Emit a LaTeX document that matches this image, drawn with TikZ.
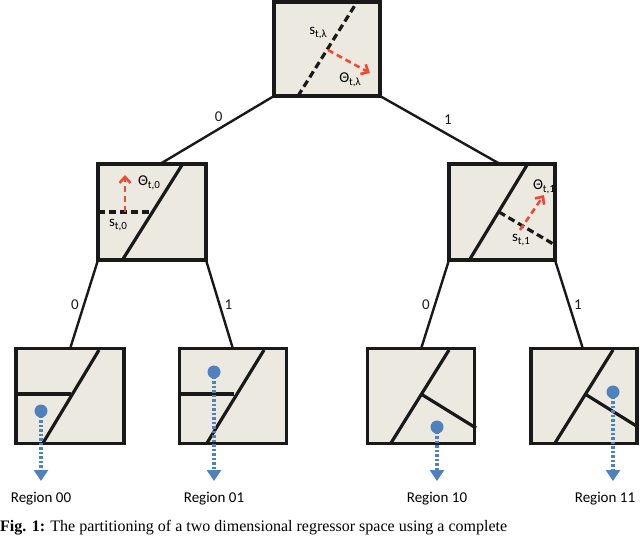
\documentclass[tikz,border=0pt]{standalone}
\usepackage{fontspec}
\setmainfont{Carlito}
\newfontfamily\capfont{Liberation Serif}
\usetikzlibrary{arrows.meta}
\definecolor{bx}{HTML}{ECEAE0}
\definecolor{dotc}{HTML}{4F81BD}
\definecolor{redc}{HTML}{F04A32}
\newcommand{\sub}[1]{\raisebox{-0.35ex}{\fontsize{11}{12}\selectfont #1}}
\begin{document}
\begin{tikzpicture}[x=1pt,y=-1pt,
 boxs/.style={draw=black!90,line width=3.5pt,fill=bx},
 part/.style={line width=3.2pt,black!90},
 dpart/.style={line width=3.2pt,black!90,dash pattern=on 7pt off 4pt},
 redarr/.style={line width=2.6pt,redc,dash pattern=on 6pt off 4pt,-{Straight Barb[length=6pt,width=11pt]}},
 edge/.style={line width=2.4pt,black!90},
 lab/.style={font=\fontsize{15}{16}\selectfont,inner sep=1pt},
 elab/.style={font=\fontsize{15}{16}\selectfont,inner sep=4pt},
 blue/.style={line width=3.4pt,dotc,dash pattern=on 2.5pt off 2pt,-{Triangle[length=11pt,width=14pt]}}]
\useasboundingbox (0,0) rectangle (640,539);
\begin{scope}
\clip (0,0) rectangle (640,539);
% edges
\coordinate (rl) at (274,96); \coordinate (rr) at (380,96);
\coordinate (at) at (160,164); \coordinate (bt) at (500,164);
\draw[edge] (rl) -- (at) node[pos=0.45,above,elab,xshift=-4pt] {0};
\draw[edge] (rr) -- (bt) node[pos=0.5,above,elab,xshift=8pt] {1};
\coordinate (al) at (98,260); \coordinate (ar) at (206,260);
\coordinate (bl) at (449,260); \coordinate (br) at (555,260);
\coordinate (l0) at (70,349); \coordinate (l1) at (233,349);
\coordinate (l2) at (421,349); \coordinate (l3) at (583,349);
\draw[edge] (al) -- (l0) node[midway,left,elab] {0};
\draw[edge] (ar) -- (l1) node[midway,right,elab] {1};
\draw[edge] (bl) -- (l2) node[midway,left,elab] {0};
\draw[edge] (br) -- (l3) node[midway,right,elab] {1};
% root
\node[boxs,minimum width=106pt,minimum height=94pt,inner sep=0pt] (root) at (327,49) {};
\draw[dpart] (298,96) -- (357,2);
\draw[redarr] (328,50) -- (370,73);
\node[lab] (sr) at (318,33) {s\sub{t,λ}};
\node[lab] (tr) at (350,80) {Θ\sub{t,λ}};
% level 2 left
\node[boxs,minimum width=108pt,minimum height=96pt,inner sep=0pt] (a) at (152,212) {};
\draw[part] (123,259) -- (182,165);
\draw[dpart] (98,212) -- (153,212);
\draw[redarr] (125,212) -- (125,175);
\node[lab] (ta) at (149,183) {Θ\sub{t,0}};
\node[lab] (sa) at (118,225) {s\sub{t,0}};
% level 2 right
\node[boxs,minimum width=106pt,minimum height=96pt,inner sep=0pt] (b) at (502,212) {};
\draw[part] (470,259) -- (527,165);
\draw[dpart] (499,212) -- (555,245);
\draw[redarr] (520,230) -- (544,195);
\node[lab] (sb) at (521,240) {s\sub{t,1}};
% leaves
\node[boxs,minimum width=108pt,minimum height=95pt,inner sep=0pt] (c0) at (70,396) {};
\draw[part] (43,443) -- (99,350);
\draw[part] (16,394) -- (71,394);
\node[lab] (r0) at (41,499) {Region 00};
\node[boxs,minimum width=107pt,minimum height=95pt,inner sep=0pt] (c1) at (233,396) {};
\draw[part] (207,443) -- (264,350);
\draw[part] (180,394) -- (234,394);
\node[lab] (r1) at (214,499) {Region 01};
\node[boxs,minimum width=107pt,minimum height=95pt,inner sep=0pt] (c2) at (421,396) {};
\draw[part] (391,443) -- (449,350);
\draw[part] (421,394) -- (476,428);
\node[lab] (r2) at (437,499) {Region 10};
\node[boxs,minimum width=106pt,minimum height=95pt,inner sep=0pt] (c3) at (584,396) {};
\draw[part] (555,443) -- (613,350);
\draw[part] (585,394) -- (638,427);
\node[lab] (r3) at (605,499) {Region 11};
% dots
\foreach \x/\y/\n in {41/411/d0,214/372/d1,437/427/d2,613/392/d3}{
  \coordinate (\n e) at (\x,481);
  \fill[dotc] (\x,\y) circle (6.5pt);
  \draw[blue] (\x,\y) -- (\n e);
}
\node[lab,anchor=center] (tb) at (544,187) {Θ\sub{t,1}};
\node[anchor=west,inner sep=0pt,font=\capfont\fontsize{16}{17}\selectfont] (cap) at (0,528) {\textbf{Fig. 1:} The partitioning of a two dimensional regressor space using a complete};
\end{scope}
\end{tikzpicture}
\end{document}
